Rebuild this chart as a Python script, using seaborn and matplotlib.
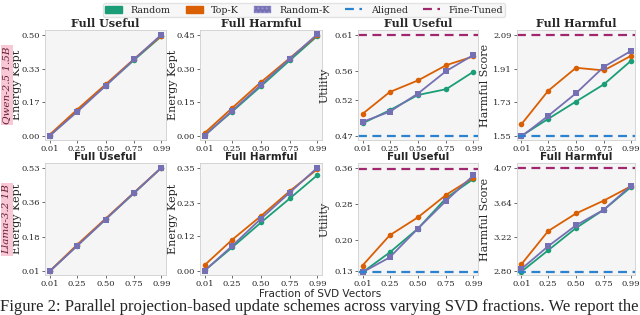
import numpy as np
import pandas as pd
import seaborn as sns
import matplotlib.pyplot as plt
from matplotlib.patches import Patch
from matplotlib.lines import Line2D

# fractions of SVD vectors kept
fractions = [0.01, 0.25, 0.50, 0.75, 0.99]
methods = ['Random', 'Top-K', 'Random-K']

# Qwen-2.5 1.5B
qwen_useful_energy = {
    'Random':   [0.003, 0.125, 0.250, 0.375, 0.492],
    'Top-K':    [0.008, 0.131, 0.255, 0.380, 0.495],
    'Random-K': [0.003, 0.120, 0.248, 0.378, 0.500],
}
qwen_harmful_energy = {
    'Random':   [0.006, 0.110, 0.222, 0.336, 0.444],
    'Top-K':    [0.015, 0.126, 0.240, 0.346, 0.447],
    'Random-K': [0.003, 0.114, 0.228, 0.343, 0.452],
}
qwen_utility = {
    'Random':   [0.488, 0.506, 0.527, 0.535, 0.559],
    'Top-K':    [0.501, 0.531, 0.547, 0.568, 0.580],
    'Random-K': [0.490, 0.504, 0.529, 0.560, 0.582],
}
qwen_harmful_score = {
    'Random':   [1.553, 1.643, 1.735, 1.826, 1.949],
    'Top-K':    [1.615, 1.792, 1.914, 1.900, 1.976],
    'Random-K': [1.550, 1.659, 1.779, 1.919, 2.002],
}
qwen_aligned = [None, None, 0.470, 1.550]
qwen_finetuned = [None, None, 0.610, 2.090]
qwen_yticks = [
    [0.00, 0.17, 0.33, 0.50],
    [0.00, 0.15, 0.30, 0.45],
    [0.47, 0.52, 0.56, 0.61],
    [1.55, 1.73, 1.91, 2.09],
]

# Llama-3.2 1B
llama_useful_energy = {
    'Random':   [0.010, 0.138, 0.271, 0.402, 0.530],
    'Top-K':    [0.010, 0.143, 0.274, 0.405, 0.530],
    'Random-K': [0.010, 0.137, 0.270, 0.404, 0.530],
}
llama_harmful_energy = {
    'Random':   [0.003, 0.081, 0.165, 0.246, 0.325],
    'Top-K':    [0.021, 0.107, 0.187, 0.271, 0.345],
    'Random-K': [0.002, 0.086, 0.178, 0.266, 0.350],
}
llama_utility = {
    'Random':   [0.128, 0.172, 0.225, 0.293, 0.335],
    'Top-K':    [0.143, 0.210, 0.250, 0.300, 0.338],
    'Random-K': [0.128, 0.161, 0.225, 0.287, 0.343],
}
llama_harmful_score = {
    'Random':   [2.797, 3.058, 3.331, 3.555, 3.828],
    'Top-K':    [2.888, 3.294, 3.509, 3.667, 3.840],
    'Random-K': [2.830, 3.108, 3.364, 3.555, 3.844],
}
llama_aligned = [None, None, 0.128, 2.797]
llama_finetuned = [None, None, 0.358, 4.068]
llama_yticks = [
    [0.01, 0.18, 0.36, 0.53],
    [0.00, 0.12, 0.23, 0.35],
    [0.13, 0.20, 0.28, 0.36],
    [2.80, 3.22, 3.64, 4.07],
]

titles = ['Full Useful', 'Full Harmful', 'Full Useful', 'Full Harmful']
ylabels = ['Energy Kept', 'Energy Kept', 'Utility', 'Harmful Score']
models = ['Qwen-2.5 1.5B', 'Llama-3.2 1B']

palette = {'Random': '#1b9e77', 'Top-K': '#d95f02', 'Random-K': '#7570b3'}
markers = {'Random': 'o', 'Top-K': 'o', 'Random-K': 's'}
aligned_color = '#2b83d0'
finetuned_color = '#a0276e'

sns.set_style('ticks', {'axes.facecolor': '#f5f5f5', 'axes.edgecolor': '#cfcfcf'})
plt.rcParams['font.family'] = ['DejaVu Serif']

fig = plt.figure(figsize=(6.4, 3.15), dpi=100)

lefts = [45, 200, 358, 517]
widths = [121, 122, 120, 118]
ylabel_offsets = [23, 22, 28, 27]
rows = [(30, 140), (163, 275)]

all_rows = [
    ([qwen_useful_energy, qwen_harmful_energy, qwen_utility, qwen_harmful_score],
     qwen_aligned, qwen_finetuned, qwen_yticks),
    ([llama_useful_energy, llama_harmful_energy, llama_utility, llama_harmful_score],
     llama_aligned, llama_finetuned, llama_yticks),
]

for r, (panels, aligned, finetuned, yticks) in enumerate(all_rows):
    top, bot = rows[r]
    for c in range(4):
        ax = fig.add_axes([lefts[c] / 640, 1 - bot / 315, widths[c] / 640, (bot - top) / 315])
        d = panels[c]
        df = pd.DataFrame({
            'x': fractions * 3,
            'y': d['Random'] + d['Top-K'] + d['Random-K'],
            'method': sum([[m] * len(fractions) for m in methods], []),
        })
        for m in methods:
            sub = df[df['method'] == m]
            sns.lineplot(data=sub, x='x', y='y', color=palette[m], marker=markers[m],
                         markersize=4, markeredgewidth=0, linewidth=1.3, ax=ax, legend=False)
        if aligned[c] is not None:
            ax.axhline(aligned[c], color=aligned_color, linestyle=(0, (4, 2.5)), linewidth=1.6)
            ax.axhline(finetuned[c], color=finetuned_color, linestyle=(0, (4, 2.5)), linewidth=1.6)
        lo, hi = yticks[c][0], yticks[c][-1]
        rng = hi - lo
        ax.set_ylim(lo - 0.035 * rng, hi + 0.045 * rng)
        ax.set_yticks(yticks[c])
        ax.set_yticklabels([f'{v:.2f}' for v in yticks[c]])
        ax.set_xticks(fractions)
        ax.set_xticklabels([f'{v:.2f}' for v in fractions])
        ax.set_xlim(-0.03, 1.03)
        ax.tick_params(labelsize=6, length=2, width=0.6, color='#555555', pad=1.5)
        ax.set_xlabel('')
        ax.set_ylabel(ylabels[c], fontsize=8)
        ax.yaxis.set_label_coords(-ylabel_offsets[c] / widths[c], 0.5)
        if r == 0:
            ax.set_title(titles[c], fontsize=8, fontweight='bold', pad=2)
        else:
            ax.set_title(titles[c], fontsize=7.5, fontweight='bold', pad=2, family='DejaVu Sans')
        for s in ax.spines.values():
            s.set_linewidth(0.6)

    fig.text(0.011, 1 - (top + bot) / 2 / 315, models[r], rotation=90, ha='center', va='center',
             fontsize=7.5, style='italic', color='#6b1f35',
             bbox=dict(boxstyle='square,pad=0.15', facecolor='#f8c8d6', edgecolor='none'))

fig.text(0.5, 1 - 294 / 315, 'Fraction of SVD Vectors', ha='center', va='center',
         fontsize=7.5, family='DejaVu Sans')

handles = [
    Patch(facecolor=palette['Random'], edgecolor=palette['Random']),
    Patch(facecolor=palette['Top-K'], edgecolor=palette['Top-K']),
    Patch(facecolor=palette['Random-K'], edgecolor='#9a96cf', hatch='....', linewidth=0.3),
    Line2D([0], [0], color=aligned_color, linestyle=(0, (4, 2.5)), linewidth=1.6),
    Line2D([0], [0], color=finetuned_color, linestyle=(0, (4, 2.5)), linewidth=1.6),
]
labels = ['Random', 'Top-K', 'Random-K', 'Aligned', 'Fine-Tuned']
fig.legend(handles, labels, loc='upper center', bbox_to_anchor=(0.475, 1.005), ncol=5,
           fontsize=6.8, frameon=True, handlelength=1.8, handleheight=0.7, columnspacing=1.6,
           borderpad=0.25, handletextpad=0.9, facecolor='#f5f5f5', edgecolor='#dddddd')

fig.text(0.0, 1 - 311 / 315,
         'Figure 2: Parallel projection-based update schemes across varying SVD fractions. We report the',
         ha='left', va='baseline', fontsize=12, family='Liberation Serif')

fig.savefig('out.png', dpi=100)
